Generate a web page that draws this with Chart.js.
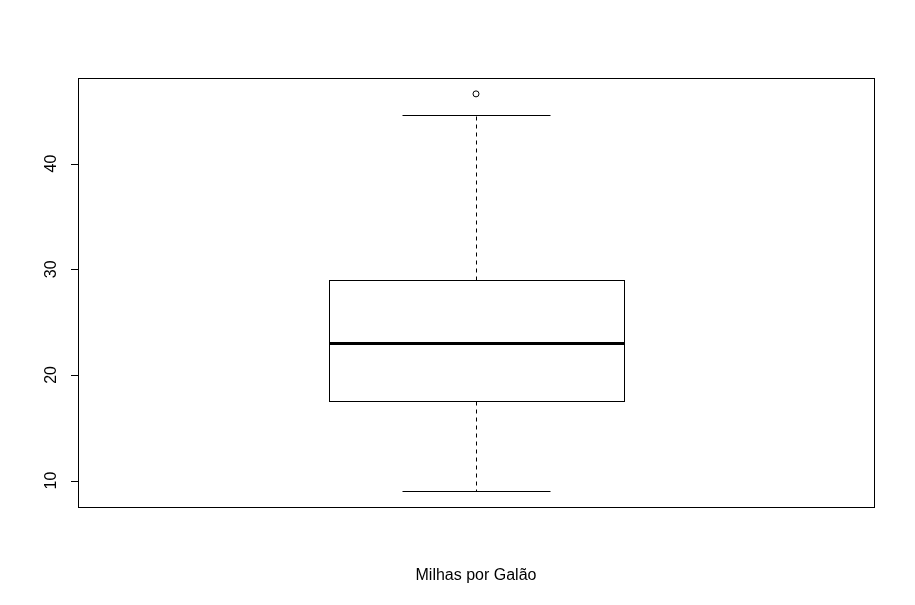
<!DOCTYPE html>
<html><head><meta charset="utf-8">
<script src="https://cdn.jsdelivr.net/npm/chart.js@4"></script>
<style>html,body{margin:0;padding:0;background:#fff}#wrap{width:915px;height:605px}</style>
</head><body><div id="wrap"><canvas id="c" width="915" height="605"></canvas></div>
<script>
// ---- data ----
const categories = ["Milhas por Galão"];
const whiskerLow = [9];
const q1 = [17.5];
const median = [23];
const q3 = [29];
const whiskerHigh = [44.6];
const outliers = [[46.6]];
const yTicks = [10, 20, 30, 40];
const yRange = [7.496, 48.104];
const xRange = [0.46, 1.54];

const FONT = '16px "Liberation Sans", Arial, sans-serif';
const BOX_HALF = 0.2, CAP_HALF = 0.1;

const boxPlugin = {
  id: 'rbox',
  afterDatasetsDraw(chart) {
    const ctx = chart.ctx, xs = chart.scales.x, ys = chart.scales.y, ca = chart.chartArea;
    const cx = v => Math.round(xs.getPixelForValue(v)) + 0.5;
    const cxr = v => Math.ceil(xs.getPixelForValue(v)) + 0.5;
    const cy = v => Math.round(ys.getPixelForValue(v)) + 0.5;
    ctx.save();
    ctx.strokeStyle = '#000';
    categories.forEach((cat, i) => {
      const pos = i + 1;
      const xl = cx(pos - BOX_HALF), xr = cxr(pos + BOX_HALF), xm = cx(pos);
      const cl = cx(pos - CAP_HALF), cr = cxr(pos + CAP_HALF);
      // whiskers dashed
      ctx.lineWidth = 1;
      ctx.setLineDash([4, 4]);
      ctx.beginPath();
      ctx.moveTo(xm, cy(q3[i])); ctx.lineTo(xm, cy(whiskerHigh[i]));
      ctx.moveTo(xm, cy(q1[i])); ctx.lineTo(xm, cy(whiskerLow[i]));
      ctx.stroke();
      ctx.setLineDash([]);
      // caps
      ctx.beginPath();
      ctx.moveTo(cl, cy(whiskerHigh[i])); ctx.lineTo(cr, cy(whiskerHigh[i]));
      ctx.moveTo(cl, cy(whiskerLow[i])); ctx.lineTo(cr, cy(whiskerLow[i]));
      ctx.stroke();
      // box
      ctx.fillStyle = '#fff';
      ctx.fillRect(xl, cy(q3[i]), xr - xl, cy(q1[i]) - cy(q3[i]));
      ctx.strokeRect(xl, cy(q3[i]), xr - xl, cy(q1[i]) - cy(q3[i]));
      // median
      ctx.lineWidth = 3;
      const my = Math.round(ys.getPixelForValue(median[i])) + 0.5;
      ctx.beginPath();
      ctx.moveTo(xl, my); ctx.lineTo(xr, my);
      ctx.stroke();
      // x label
      ctx.fillStyle = '#000';
      ctx.font = FONT;
      ctx.textAlign = 'center';
      ctx.textBaseline = 'middle';
      ctx.fillText(cat, xs.getPixelForValue(pos), 576);
    });
    // frame
    ctx.lineWidth = 1;
    ctx.strokeRect(ca.left + 0.5, ca.top + 0.5, ca.right - ca.left, ca.bottom - ca.top);
    // y axis ticks and labels
    ctx.font = FONT;
    ctx.fillStyle = '#000';
    yTicks.forEach(t => {
      const py = cy(t);
      ctx.beginPath();
      ctx.moveTo(ca.left - 7, py); ctx.lineTo(ca.left, py);
      ctx.stroke();
      ctx.save();
      ctx.translate(52, ys.getPixelForValue(t));
      ctx.rotate(-Math.PI / 2);
      ctx.textAlign = 'center';
      ctx.textBaseline = 'middle';
      ctx.fillText(String(t), 0, 0);
      ctx.restore();
    });
    ctx.restore();
  }
};

new Chart(document.getElementById('c'), {
  type: 'scatter',
  data: {
    datasets: [{
      label: 'outliers',
      data: outliers.flatMap((o, i) => o.map(v => ({ x: i + 1, y: v }))),
      pointStyle: 'circle',
      pointRadius: 3,
      pointHoverRadius: 3,
      borderColor: '#000',
      borderWidth: 1,
      backgroundColor: 'rgba(0,0,0,0)'
    }]
  },
  options: {
    responsive: false,
    devicePixelRatio: 1,
    animation: false,
    layout: { padding: { left: 78, top: 78, right: 41, bottom: 98 } },
    plugins: { legend: { display: false }, tooltip: { enabled: false } },
    scales: {
      x: { type: 'linear', display: false, min: xRange[0], max: xRange[1] },
      y: { type: 'linear', display: false, min: yRange[0], max: yRange[1] }
    }
  },
  plugins: [boxPlugin]
});
</script>
</body></html>
